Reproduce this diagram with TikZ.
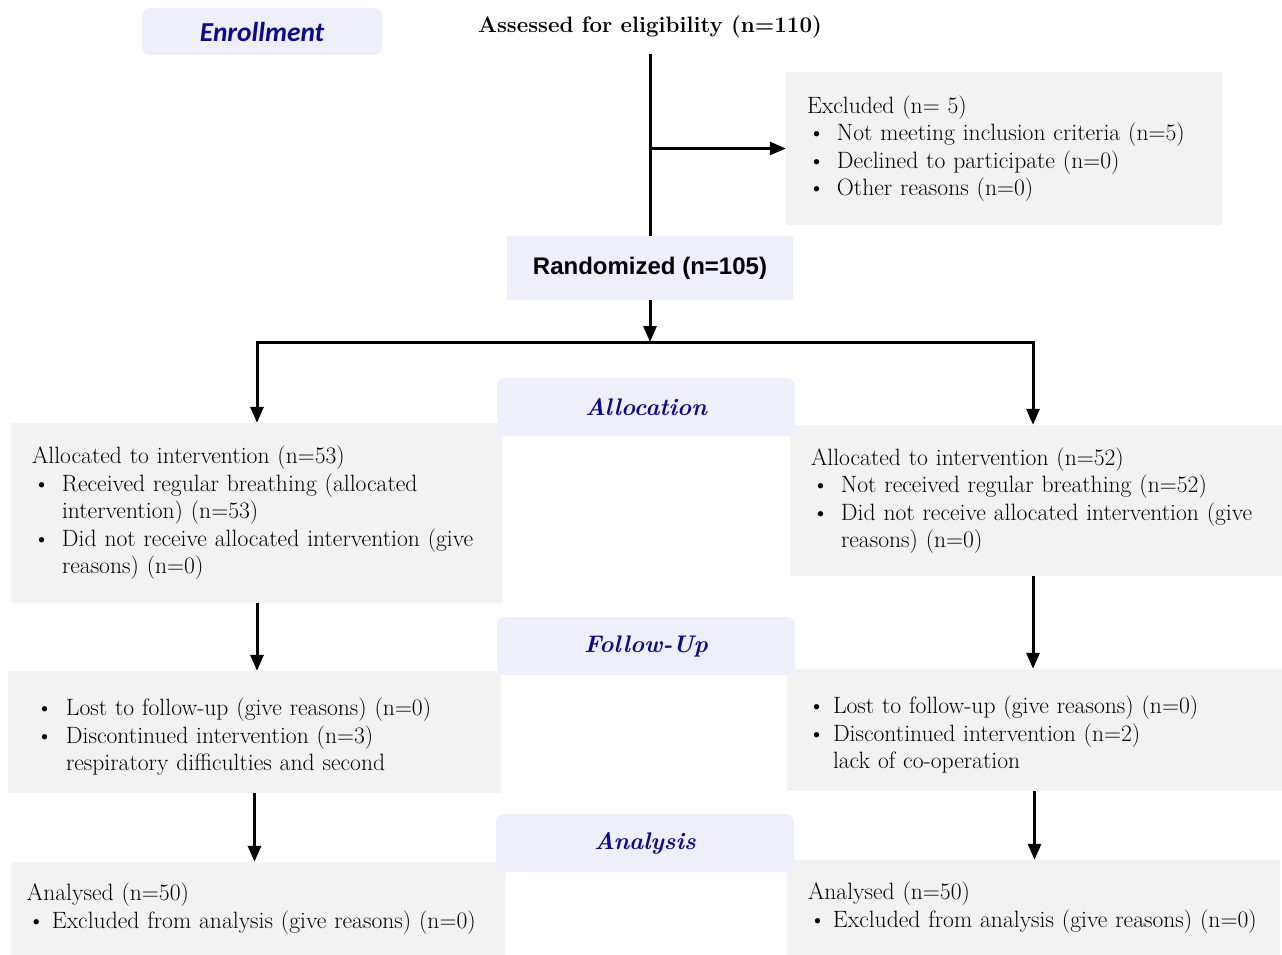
\documentclass[tikz,border=0pt]{standalone}
\usepackage{fontspec}
\newfontfamily\calfont{Carlito}
\newfontfamily\arialfont{Liberation Sans}
\usetikzlibrary{arrows.meta, positioning}
\definecolor{labelfill}{RGB}{239,239,252}
\definecolor{boxfill}{RGB}{242,242,242}
\definecolor{navytext}{RGB}{10,10,140}
\setlength{\parindent}{0pt}
% bullet line with hanging indent: [indent][bullet offset]{text}
\NewDocumentCommand{\bitem}{O{30pt} O{1pt} m}{\par\hangindent=#1\hangafter=1\makebox[#1][l]{\hspace{#2}\textbullet}#3\par}
\newcommand{\bodysize}{\fontsize{23.6pt}{27.5pt}\selectfont}

\begin{document}
\begin{tikzpicture}[
    x=1pt, y=-1pt,
    % Node styles
    stagelabel/.style={rectangle, rounded corners=8pt, fill=labelfill, minimum width=298pt, minimum height=58pt, text=navytext, font=\fontsize{24pt}{28pt}\selectfont\bfseries\itshape},
    greybox/.style={rectangle, fill=boxfill, inner xsep=21pt, inner ysep=0pt, align=left, font=\bodysize},
    line/.style={line width=3pt},
    arrow/.style={-{Triangle[length=16pt, width=13pt]}, line width=3pt},
]
\useasboundingbox (0,0) rectangle (1282,955);

% ============================================================================
% ENROLLMENT
% ============================================================================
\node[rectangle, rounded corners=8pt, fill=labelfill, minimum width=240pt, minimum height=47pt,
    text=navytext, font=\calfont\fontsize{27.4pt}{30pt}\selectfont\bfseries\itshape] (enroll) at (262, 31.5) {Enrollment};

\node[font=\fontsize{22.3pt}{26pt}\selectfont\bfseries, inner xsep=0pt, inner ysep=16pt] (assess) at (650, 27) {Assessed for eligibility (n=110)};

\node[greybox, text width=394pt, minimum width=436pt, minimum height=153pt] (excl) at (1004, 148.5) {
    Excluded (n= 5)
    \bitem{Not meeting inclusion criteria (n=5)}
    \bitem{Declined to participate (n=0)}
    \bitem{Other reasons (n=0)}
};

\node[rectangle, fill=labelfill, minimum width=286pt, minimum height=64pt,
    font=\arialfont\fontsize{24pt}{27pt}\selectfont\bfseries] (random) at (650, 268) {Randomized (n=105)};

\draw[line] (assess.south) -- (random.north);
\draw[arrow] (assess.south |- excl.west) -- (excl.west);

% ============================================================================
% ALLOCATION
% ============================================================================
\node[greybox, text width=450pt, minimum width=492pt, minimum height=180pt] (allocL) at (257, 513) {
    Allocated to intervention (n=53)
    \bitem{Received regular breathing (allocated\newline intervention) (n=53)}
    \bitem{Did not receive allocated intervention (give\newline reasons) (n=0)}
};

\node[greybox, text width=450pt, minimum width=492pt, minimum height=151pt] (allocR) at (1036, 500.5) {
    Allocated to intervention (n=52)
    \bitem{Not received regular breathing (n=52)}
    \bitem{Did not receive allocated intervention (give\newline reasons) (n=0)}
};

\coordinate (branch) at (650, 342);
\draw[arrow] (random.south) -- (branch);
\draw[arrow] (branch) -| ([xshift=-3pt]allocR.north);
\draw[arrow] (branch) -| (allocL.north);

% ============================================================================
% FOLLOW-UP
% ============================================================================
\node[greybox, text width=451pt, minimum width=493pt, minimum height=122pt] (fuL) at (254.5, 732) {
    \bitem[37pt][7pt]{Lost to follow-up (give reasons) (n=0)}
    \bitem[37pt][7pt]{Discontinued intervention (n=3)\newline respiratory difficulties and second}
};

\node[greybox, text width=453pt, minimum width=495pt, minimum height=122pt] (fuR) at (1034.5, 730) {
    \bitem[25pt][0pt]{Lost to follow-up (give reasons) (n=0)}
    \bitem[25pt][0pt]{Discontinued intervention (n=2)\newline lack of co-operation}
};

\draw[arrow] (allocL.south) -- (allocL.south |- fuL.north);
\draw[arrow] ([xshift=-3pt]allocR.south) -- ([xshift=-3pt]allocR.south |- fuR.north);

% ============================================================================
% ANALYSIS
% ============================================================================
\node[greybox, inner xsep=16pt, text width=462pt, minimum width=494pt, minimum height=93pt] (anL) at (258, 908.5) {
    Analysed (n=50)
    \bitem[25pt]{Excluded from analysis (give reasons) (n=0)}
};

\node[greybox, text width=451pt, minimum width=493pt, minimum height=95pt] (anR) at (1033.5, 907.5) {
    Analysed (n=50)
    \bitem[25pt]{Excluded from analysis (give reasons) (n=0)}
};

\draw[arrow] (fuL.south) -- (fuL.south |- anL.north);
\draw[arrow] (fuR.south) -- (fuR.south |- anR.north);

% Stage labels on top
\node[stagelabel] (allocation) at (646, 407) {Allocation};
\node[stagelabel] (followup) at (646, 646) {Follow-Up};
\node[stagelabel] (analysis) at (645, 843) {Analysis};

\end{tikzpicture}
\end{document}
